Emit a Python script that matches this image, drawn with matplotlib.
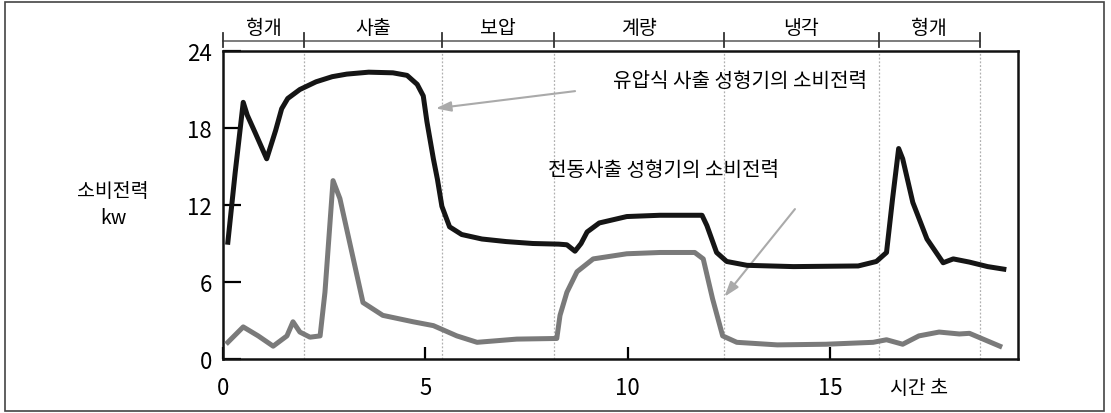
import matplotlib
matplotlib.use("Agg")
import matplotlib.pyplot as plt
from matplotlib.patches import Rectangle
from matplotlib.transforms import blended_transform_factory

plt.rcParams['font.family'] = ['Noto Sans CJK KR', 'DejaVu Sans']

# ---- data ----
hyd_t = [0.12, 0.3, 0.5, 0.6, 0.8, 1.08, 1.3, 1.45, 1.6, 1.9, 2.3, 2.7, 3.06, 3.6, 4.2,
         4.55, 4.8, 4.95, 5.04, 5.2, 5.3, 5.41, 5.6, 5.9, 6.4, 7.0, 7.66, 8.3, 8.5, 8.7, 8.85,
         9.0, 9.3, 9.98, 10.8, 11.84, 11.96, 12.2, 12.45, 12.95, 14.1, 15.7, 16.15, 16.4,
         16.55, 16.7, 16.8, 17.05, 17.4, 17.8, 18.05, 18.45, 18.9, 19.3]
hyd_kw = [9.1, 14.5, 20.0, 19.0, 17.6, 15.6, 17.8, 19.5, 20.3, 21.0, 21.6, 22.0, 22.2, 22.35, 22.3,
          22.1, 21.4, 20.5, 18.5, 15.6, 14.0, 11.9, 10.3, 9.7, 9.35, 9.15, 9.0, 8.95, 8.9, 8.4, 9.0,
          9.9, 10.6, 11.1, 11.2, 11.2, 10.4, 8.3, 7.6, 7.3, 7.2, 7.25, 7.6, 8.3,
          12.5, 16.4, 15.6, 12.2, 9.35, 7.5, 7.8, 7.55, 7.2, 7.0]

ele_t = [0.12, 0.5, 0.87, 1.24, 1.58, 1.73, 1.9, 2.15, 2.4, 2.52, 2.72, 2.89, 3.46, 3.95, 4.7,
         5.2, 5.78, 6.28, 7.26, 8.25, 8.33, 8.5, 8.75, 9.15, 9.98, 10.8, 11.66, 11.87, 12.1,
         12.35, 12.7, 13.7, 14.9, 16.07, 16.4, 16.8, 17.2, 17.7, 18.2, 18.45, 18.9, 19.2]
ele_kw = [1.3, 2.5, 1.8, 1.0, 1.8, 2.9, 2.1, 1.7, 1.8, 5.2, 13.9, 12.5, 4.4, 3.4, 2.9,
          2.6, 1.8, 1.3, 1.55, 1.6, 3.4, 5.2, 6.8, 7.8, 8.2, 8.3, 8.3, 7.8, 4.7,
          1.8, 1.3, 1.1, 1.15, 1.3, 1.5, 1.15, 1.8, 2.1, 1.95, 2.0, 1.4, 1.0]

phase_bounds = [0, 2.0, 5.41, 8.18, 12.38, 16.21, 18.7]
phase_names = ['형개', '사출', '보압', '계량', '냉각', '형개']

x_ticks = [0, 5, 10, 15]
y_ticks = [0, 6, 12, 18, 24]

label_hyd = '유압식 사출 성형기의 소비전력'
label_ele = '전동사출 성형기의 소비전력'
y_label = '소비전력\nkw'
x_label = '시간 초'

# ---- figure ----
fig = plt.figure(figsize=(11.11, 4.14), dpi=100)
fig.patches.append(Rectangle((5 / 1111, 2 / 414), 1099 / 1111, 409 / 414,
                             transform=fig.transFigure, fill=False,
                             edgecolor='#444444', linewidth=1.2))

ax = fig.add_axes([223 / 1111, 54 / 414, 795 / 1111, 308 / 414])
ax.set_xlim(0, 19.65)
ax.set_ylim(0, 24)

# phase dividers
for b in phase_bounds[1:]:
    ax.axvline(b, color='#b0b0b0', linestyle=(0, (1.5, 1.5)), linewidth=0.9, zorder=1)

ax.plot(ele_t, ele_kw, color='#7a7a7a', linewidth=3.6, solid_joinstyle='round', zorder=3)
ax.plot(hyd_t, hyd_kw, color='#151515', linewidth=3.6, solid_joinstyle='round', zorder=4)

# spines & ticks
for s in ax.spines.values():
    s.set_linewidth(1.8)
    s.set_color('#111111')
ax.set_xticks(x_ticks)
ax.set_yticks(y_ticks)
ax.tick_params(axis='x', direction='in', length=9, width=1.6, pad=12, labelsize=16)
ax.tick_params(axis='y', direction='in', length=13, width=1.6, pad=8, labelsize=16)

# axis labels
fig.text(113 / 1111, 1 - 205 / 414, y_label, ha='center', va='center', fontsize=14,
         linespacing=1.4)
trans = blended_transform_factory(ax.transData, ax.transAxes)
ax.text(17.2, -0.093, x_label, transform=trans, ha='center', va='center', fontsize=14)

# phase bracket above the axes
ax.plot([phase_bounds[0], phase_bounds[-1]], [1.0325, 1.0325], transform=trans,
        color='#666666', linewidth=1.2, clip_on=False)
for b in phase_bounds:
    ax.plot([b, b], [1.013, 1.058], transform=trans, color='#333333', linewidth=1.3,
            clip_on=False)
for i, name in enumerate(phase_names):
    xc = (phase_bounds[i] + phase_bounds[i + 1]) / 2
    ax.text(xc, 1.075, name, transform=trans, ha='center', va='center', fontsize=14)

# annotations
ax.annotate('', xy=(5.19, 19.5), xytext=(8.77, 20.9),
            arrowprops=dict(arrowstyle='-|>,head_length=0.9,head_width=0.3',
                            color='#aaaaaa', lw=1.5))
ax.text(12.78, 21.67, label_hyd, ha='center', va='center', fontsize=14.5)
ax.annotate('', xy=(12.35, 4.68), xytext=(14.18, 11.85),
            arrowprops=dict(arrowstyle='-|>,head_length=0.9,head_width=0.3',
                            color='#aaaaaa', lw=1.5))
ax.text(10.88, 14.8, label_ele, ha='center', va='center', fontsize=14.5)

fig.savefig('out.png', dpi=100)
